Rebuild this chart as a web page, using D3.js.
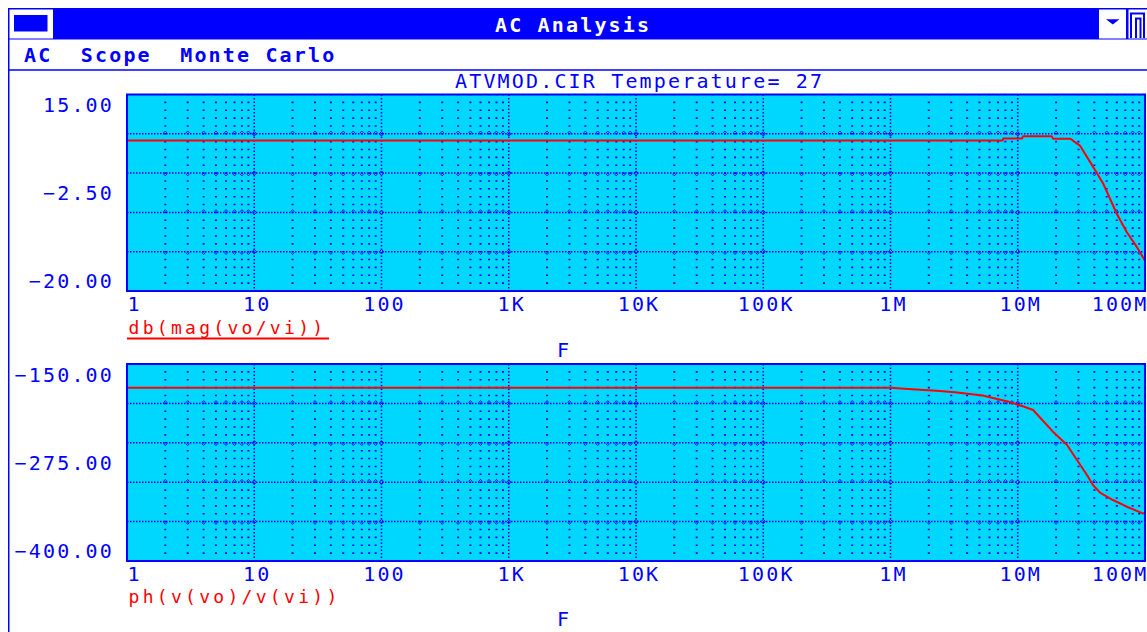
<!DOCTYPE html>
<html><head><meta charset="utf-8">
<script src="https://cdn.jsdelivr.net/npm/d3@7"></script>
<style>
html,body{margin:0;padding:0;background:#fff;overflow:hidden}
svg{display:block}
text{font-family:"DejaVu Sans Mono",monospace;font-size:20px;letter-spacing:2.16px}
</style></head><body>
<svg id="c" width="1147" height="632"></svg>
<script>
// ---- data ----
const tickFreqs = [1, 10, 100, 1e3, 1e4, 1e5, 1e6, 1e7, 1e8];
const tickLabels = ["1", "10", "100", "1K", "10K", "100K", "1M", "10M", "100M"];
const magTicks = [15, -2.5, -20];
const phTicks = [-150, -275, -400];
const magFreq = [1, 1e6, 7.6e6, 7.7e6, 1.08e7, 1.1e7, 1.85e7, 1.9e7, 2.6e7, 3.08e7, 3.7e7, 4.14e7, 4.7e7, 5.99e7, 7.18e7, 8.6e7, 1e8];
const magDb   = [6.8, 6.8, 6.8, 7.15, 7.15, 7.55, 7.55, 7.1, 7.1, 5.9, 3.0, 1.2, -0.9, -6.2, -9.5, -12.1, -14.6];
const phFreq = [1, 1e6, 1.47e6, 2.3e6, 3.2e6, 4.2e6, 5.3e6, 6.5e6, 8.5e6, 1.11e7, 1.32e7, 1.89e7, 2.44e7, 2.92e7, 3.5e7, 3.9e7, 4.43e7, 5.6e7, 7.2e7, 9.6e7, 1e8];
const phDeg  = [-180, -180, -182, -184, -186, -188, -190, -193.5, -198, -204, -208.4, -235.9, -252.8, -271.8, -290.9, -303.6, -313.3, -322.6, -331.1, -339.5, -340];
const windowTitle = "AC Analysis";
const menuText = "AC  Scope  Monte Carlo";
const chartTitle = "ATVMOD.CIR Temperature= 27";
const magLabel = "db(mag(vo/vi))";
const phLabel = "ph(v(vo)/v(vi))";
const xLabel = "F";

const BLUE = "#0000ff", CYAN = "#00d7ff", RED = "#ff0000", WHITE = "#ffffff";
const svg = d3.select("#c");

// ---- window chrome ----
svg.append("rect").attr("x", 8).attr("y", 8).attr("width", 1139).attr("height", 31.5).attr("fill", BLUE);
svg.append("line").attr("x1", 8.75).attr("x2", 8.75).attr("y1", 8).attr("y2", 632).attr("stroke", BLUE).attr("stroke-width", 1.5);
svg.append("rect").attr("x", 9.5).attr("y", 9.5).attr("width", 43.5).attr("height", 29).attr("fill", WHITE);
svg.append("rect").attr("x", 14).attr("y", 15).attr("width", 33.5).attr("height", 16.5).attr("fill", BLUE);
svg.append("rect").attr("x", 1099).attr("y", 9.5).attr("width", 27).attr("height", 29).attr("fill", WHITE);
svg.append("path").attr("d", "M1106,19.3 L1119.5,19.3 L1112.75,24.5 Z").attr("fill", BLUE);
svg.append("rect").attr("x", 1128.5).attr("y", 9.5).attr("width", 19).attr("height", 29).attr("fill", WHITE);
svg.append("path").attr("d", "M1131,38 V13.5 H1144 V38 M1136,38 V18.5 H1140.5 V38").attr("fill", "none").attr("stroke", BLUE).attr("stroke-width", 2);
svg.append("text").attr("x", 495).attr("y", 31.5).attr("fill", WHITE).attr("font-weight", "bold").text(windowTitle);
svg.append("text").attr("x", 24).attr("y", 61.5).attr("fill", BLUE).attr("font-weight", "bold")
  .attr("xml:space", "preserve").style("white-space", "pre").text(menuText);
svg.append("line").attr("x1", 8).attr("x2", 1147).attr("y1", 70).attr("y2", 70).attr("stroke", BLUE).attr("stroke-width", 1.6);
svg.append("text").attr("x", 455).attr("y", 88).attr("fill", BLUE).text(chartTitle);

// ---- panels ----
const X0 = 127, X1 = 1145;
const minors = [];
for (let e = 0; e < 8; e++) for (let k = 2; k <= 9; k++) minors.push(k * Math.pow(10, e));
const majors = tickFreqs.slice(1, -1);

function panel(top, bottom, domain, yTicks, freqs, vals, label, underline, fBase, clipId) {
  const x = d3.scaleLog().domain([1, 1e8]).range([X0, X1]);
  const y = d3.scaleLinear().domain(domain).range([top, bottom]);
  const h = bottom - top, step = h / 25;
  const g = svg.append("g");
  g.append("clipPath").attr("id", clipId).append("rect")
    .attr("x", X0).attr("y", top).attr("width", X1 - X0).attr("height", h);
  g.append("rect").attr("x", X0).attr("y", top).attr("width", X1 - X0).attr("height", h).attr("fill", CYAN);

  // minor vertical dotted lines
  g.append("g").selectAll("line").data(minors).join("line")
    .attr("x1", d => x(d)).attr("x2", d => x(d)).attr("y1", top).attr("y2", bottom)
    .attr("stroke", BLUE).attr("stroke-width", 2)
    .attr("stroke-dasharray", `1.6 ${step - 1.6}`).attr("stroke-dashoffset", 0.8);
  // major vertical dotted lines
  g.append("g").selectAll("line").data(majors).join("line")
    .attr("x1", d => x(d)).attr("x2", d => x(d)).attr("y1", top).attr("y2", bottom)
    .attr("stroke", BLUE).attr("stroke-width", 1.6).attr("stroke-dasharray", "1.5 2");
  // horizontal grid lines
  const hv = [1, 2, 3, 4].map(j => domain[0] + (domain[1] - domain[0]) * j / 5);
  g.append("g").selectAll("line").data(hv).join("line")
    .attr("x1", X0).attr("x2", X1).attr("y1", d => y(d)).attr("y2", d => y(d))
    .attr("stroke", BLUE).attr("stroke-width", 1.5).attr("stroke-dasharray", "1.5 1.5");
  // small carets at minor intersections
  const marks = [];
  hv.forEach((v, j) => minors.forEach(f => marks.push({ f, v, up: j % 2 === 0 })));
  g.append("g").selectAll("path").data(marks).join("path")
    .attr("d", d => {
      const cx = x(d.f), cy = y(d.v), s = d.up ? -1 : 1;
      return `M${cx - 1.8},${cy + s * 0.8} L${cx},${cy + s * 2.8} L${cx + 1.8},${cy + s * 0.8}`;
    })
    .attr("fill", "none").attr("stroke", BLUE).attr("stroke-width", 0.9);
  const dmarks = [];
  hv.forEach(v => majors.forEach(f => dmarks.push({ f, v })));
  g.append("g").selectAll("path").data(dmarks).join("path")
    .attr("d", d => { const cx = x(d.f), cy = y(d.v); return `M${cx},${cy - 2.2} L${cx + 2.2},${cy} L${cx},${cy + 2.2} L${cx - 2.2},${cy} Z`; })
    .attr("fill", "none").attr("stroke", BLUE).attr("stroke-width", 1);

  // curve
  const pts = freqs.map((f, i) => [f, vals[i]]);
  g.append("path").datum(pts).attr("clip-path", `url(#${clipId})`)
    .attr("d", d3.line().x(d => x(d[0])).y(d => y(d[1])))
    .attr("fill", "none").attr("stroke", RED).attr("stroke-width", 2).attr("stroke-linejoin", "round");

  // border
  g.append("rect").attr("x", X0).attr("y", top).attr("width", X1 - X0).attr("height", h)
    .attr("fill", "none").attr("stroke", BLUE).attr("stroke-width", 2);

  // x axis labels
  const xa = g.append("g").attr("transform", `translate(0,${bottom})`)
    .call(d3.axisBottom(x).tickValues(tickFreqs).tickSize(0)
      .tickFormat(d => tickLabels[tickFreqs.findIndex(t => Math.abs(t - d) < 1e-6 * t)]));
  xa.select(".domain").remove();
  xa.attr("font-family", null).attr("font-size", null);
  const n = tickFreqs.length;
  xa.selectAll("text").attr("fill", BLUE).attr("y", 20).attr("dy", 0)
    .attr("text-anchor", (d, i) => i === 0 ? "start" : (i === n - 1 ? "end" : "middle"))
    .attr("dx", (d, i) => i === 0 ? 0 : (i === n - 1 ? 3 : 2.5));

  // y axis labels
  const ya = g.append("g").attr("transform", `translate(${X0},0)`)
    .call(d3.axisLeft(y).tickValues(yTicks).tickSize(0).tickPadding(13).tickFormat(d3.format(".2f")));
  ya.select(".domain").remove();
  ya.attr("font-family", null).attr("font-size", null);
  ya.selectAll("text").attr("fill", BLUE).attr("dy", 0)
    .attr("y", (d, i) => i === 0 ? 17 : (i === 1 ? 7 : -4));

  // series label and F
  g.append("text").attr("x", 128.5).attr("y", fBase - 23).attr("fill", RED)
    .style("font-size", "18px").style("letter-spacing", "3.3px").text(label);
  if (underline) {
    g.append("line").attr("x1", X0).attr("x2", 329).attr("y1", fBase - 18.5).attr("y2", fBase - 18.5)
      .attr("stroke", RED).attr("stroke-width", 2);
  }
  g.append("text").attr("x", 564).attr("y", fBase).attr("text-anchor", "middle").attr("fill", BLUE).text(xLabel);
}

panel(94.5, 291, [15, -20], magTicks, magFreq, magDb, magLabel, true, 357, "clipA");
panel(364, 561, [-150, -400], phTicks, phFreq, phDeg, phLabel, false, 626, "clipB");
</script>
</body></html>
